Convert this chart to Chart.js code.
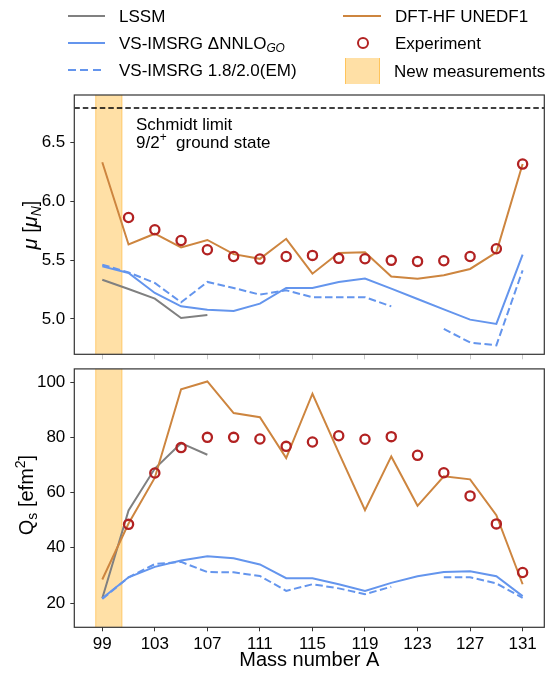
<!DOCTYPE html>
<html>
<head>
<meta charset="utf-8">
<script src="https://cdn.jsdelivr.net/npm/chart.js@4/dist/chart.umd.min.js"></script>
<style>
  body { margin: 0; background: #fff; font-family: 'Liberation Sans', Arial, sans-serif; }
  #page { position: relative; width: 555px; height: 673px; overflow: hidden; }
  .box { position: absolute; left: 0; width: 555px; }
  #topBox { top: 0; height: 362px; }
  #botBox { top: 362px; height: 311px; }
  .txt { position: absolute; font-size: 17px; color: #000; white-space: nowrap; line-height: 1; transform: translateY(-50%); z-index: 2; }
  .hline { position: absolute; height: 2px; margin-top: -1px; z-index: 2; }
  .ytitle { position: absolute; font-size: 20px; white-space: nowrap; line-height: 1; transform: translate(-50%, -50%) rotate(-90deg); z-index: 2; }
  sub, sup { font-size: 70%; line-height: 0; }
  sub { vertical-align: -0.3em; }
  sup { vertical-align: 0.55em; }
</style>
</head>
<body>
<div id="page">
  <div class="box" id="topBox"><canvas id="muChart"></canvas></div>
  <div class="box" id="botBox"><canvas id="qChart"></canvas></div>

  <!-- legend -->
  <div class="hline" style="left:68px; width:37px; top:16px; background:#808080"></div>
  <div class="txt" style="left:119px; top:16px">LSSM</div>
  <div class="hline" style="left:68px; width:37px; top:43px; background:#6495ed"></div>
  <div class="txt" style="left:119px; top:43px">VS-IMSRG ΔNNLO<sub><i>GO</i></sub></div>
  <div class="hline" style="left:68px; width:37px; top:70px; background:repeating-linear-gradient(90deg, #6495ed 0 8px, transparent 8px 12.5px)"></div>
  <div class="txt" style="left:119px; top:70px">VS-IMSRG 1.8/2.0(EM)</div>
  <div class="hline" style="left:343px; width:38px; top:16px; background:#cd853f"></div>
  <div class="txt" style="left:395px; top:16px">DFT-HF UNEDF1</div>
  <div style="position:absolute; left:357px; top:37px; width:8px; height:8px; border:2.3px solid #b22222; border-radius:50%; z-index:2"></div>
  <div class="txt" style="left:395px; top:43px">Experiment</div>
  <div style="position:absolute; left:345px; top:58px; width:33px; height:26px; background:rgba(255,165,0,0.35); border-left:1px solid rgba(255,165,0,0.45); border-right:1px solid rgba(255,165,0,0.45); z-index:2"></div>
  <div class="txt" style="left:394px; top:71px">New measurements</div>

  <!-- annotation and axis titles -->
  <div class="txt" style="left:136px; top:124px">Schmidt limit</div>
  <div class="txt" style="left:136px; top:142px">9/2<sup>+</sup>&nbsp; ground state</div>
  <div class="ytitle" style="left:30px; top:225px"><i>μ</i> [<i>μ</i><sub><i>N</i></sub>]</div>
  <div class="ytitle" style="left:26px; top:495px">Q<sub>s</sub> [efm<sup>2</sup>]</div>
</div>

<script>
// mass numbers (odd A)
const masses = [99, 101, 103, 105, 107, 109, 111, 113, 115, 117, 119, 121, 123, 125, 127, 129, 131];
const massTicks = [99, 103, 107, 111, 115, 119, 123, 127, 131];
const massRange = [96.87, 132.65];
const newBand = [98.5, 100.5];

// magnetic moments mu [mu_N]
const muTicks = [5.0, 5.5, 6.0, 6.5];
const muRange = [4.70, 6.90];
const schmidtLimit = 6.79;
const muLSSM = [5.333, 5.254, 5.172, 5.008, 5.034, null, null, null, null, null, null, null, null, null, null, null, null];
const muGO = [5.446, 5.39, 5.22, 5.107, 5.079, 5.068, 5.13, 5.263, 5.263, 5.314, 5.342, 5.257, 5.169, 5.081, 4.994, 4.958, 5.545];
const muEM = [5.46, 5.395, 5.305, 5.141, 5.314, 5.263, 5.206, 5.243, 5.184, 5.184, 5.184, 5.107, null, 4.915, 4.80, 4.776, 5.412];
const muDFT = [6.33, 5.632, 5.723, 5.607, 5.67, 5.55, 5.51, 5.68, 5.384, 5.56, 5.565, 5.36, 5.342, 5.37, 5.424, 5.565, 6.314];
const muExp = [null, 5.861, 5.757, 5.666, 5.587, 5.53, 5.508, 5.53, 5.539, 5.514, 5.511, 5.497, 5.488, 5.494, 5.53, 5.596, 6.314];

// quadrupole moments Qs [efm^2]
const qTicks = [20, 40, 60, 80, 100];
const qRange = [11.2, 104.8];
const qLSSM = [21.7, 53.5, 68.7, 77.9, 73.7, null, null, null, null, null, null, null, null, null, null, null, null];
const qGO = [21.7, 29.3, 33.1, 35.4, 36.96, 36.2, 33.96, 29.0, 29.0, 26.8, 24.4, 27.3, 29.7, 31.2, 31.5, 29.7, 22.5];
const qEM = [21.5, 29.3, 34.1, 34.9, 31.2, 31.1, 29.8, 24.4, 26.8, 25.3, 23.2, 25.9, null, 29.3, 29.3, 27.1, 21.9];
const qDFT = [28.5, 48.8, 65.4, 97.4, 100.25, 88.8, 87.3, 72.5, 95.8, 74.5, 53.6, 73.1, 55.2, 65.9, 64.8, 51.8, 26.8];
const qExp = [null, 48.5, 67.1, 76.3, 80.0, 80.0, 79.4, 76.75, 78.3, 80.6, 79.3, 80.25, 73.5, 67.2, 58.8, 48.65, 31.05];

document.addEventListener("DOMContentLoaded", () => {

    const FONT = "'Liberation Sans', Arial, sans-serif";
    const pts = vals => masses.map((a, i) => ({ x: a, y: vals[i] }));

    const lineSet = (label, vals, color, dashed) => ({
        label: label,
        data: pts(vals),
        borderColor: color,
        borderWidth: 2,
        borderDash: dashed ? [7.5, 3.5] : [],
        pointRadius: 0,
        fill: false,
        tension: 0,
        spanGaps: false
    });

    const expSet = vals => ({
        label: 'Experiment',
        data: pts(vals),
        showLine: false,
        pointRadius: 4.6,
        pointBorderWidth: 2.3,
        pointBorderColor: '#b22222',
        pointBackgroundColor: 'rgba(0,0,0,0)'
    });

    // orange band for new measurements + axes frame
    const panelDecor = {
        id: 'panelDecor',
        beforeDatasetsDraw(chart) {
            const { ctx, chartArea, scales } = chart;
            const x1 = scales.x.getPixelForValue(newBand[0]);
            const x2 = scales.x.getPixelForValue(newBand[1]);
            ctx.save();
            ctx.fillStyle = 'rgba(255,165,0,0.35)';
            ctx.fillRect(x1, chartArea.top, x2 - x1, chartArea.bottom - chartArea.top);
            ctx.strokeStyle = 'rgba(255,165,0,0.45)';
            ctx.lineWidth = 1;
            ctx.beginPath();
            ctx.moveTo(x1, chartArea.top); ctx.lineTo(x1, chartArea.bottom);
            ctx.moveTo(x2, chartArea.top); ctx.lineTo(x2, chartArea.bottom);
            ctx.stroke();
            ctx.restore();
        },
        afterDraw(chart) {
            const { ctx, chartArea } = chart;
            ctx.save();
            ctx.strokeStyle = '#333';
            ctx.lineWidth = 1.2;
            ctx.strokeRect(chartArea.left, chartArea.top, chartArea.right - chartArea.left, chartArea.bottom - chartArea.top);
            ctx.restore();
        }
    };

    const makeOptions = (yRange, yTicks, yFmt, padTop, xHeight, showX) => ({
        responsive: true,
        maintainAspectRatio: false,
        animation: false,
        layout: { padding: { left: 0, right: 10.7, top: padTop, bottom: 0 } },
        plugins: { legend: { display: false }, tooltip: { enabled: false } },
        scales: {
            x: {
                type: 'linear',
                min: massRange[0],
                max: massRange[1],
                afterBuildTicks: s => { s.ticks = massTicks.map(v => ({ value: v })); },
                afterFit: s => { s.height = xHeight; s.paddingLeft = 0; s.paddingRight = 0; },
                ticks: {
                    display: showX,
                    autoSkip: false,
                    maxRotation: 0,
                    padding: 3,
                    color: '#000',
                    font: { family: FONT, size: 17 },
                    callback: v => String(v)
                },
                grid: { drawOnChartArea: false, tickLength: showX ? 4 : 5, color: showX ? '#333' : '#c8c8c8' },
                border: { display: false },
                title: {
                    display: showX,
                    text: 'Mass number A',
                    color: '#000',
                    font: { family: FONT, size: 20 },
                    padding: { top: 0, bottom: 1 }
                }
            },
            y: {
                min: yRange[0],
                max: yRange[1],
                afterBuildTicks: s => { s.ticks = yTicks.map(v => ({ value: v })); },
                afterFit: s => { s.width = 74.3; s.paddingTop = 0; s.paddingBottom = 0; },
                ticks: {
                    padding: 5,
                    color: '#000',
                    font: { family: FONT, size: 17 },
                    callback: yFmt
                },
                grid: { drawOnChartArea: false, tickLength: 4, color: '#333' },
                border: { display: false }
            }
        }
    });

    // top panel: magnetic moments
    new Chart(document.getElementById("muChart").getContext("2d"), {
        type: 'line',
        data: {
            datasets: [
                expSet(muExp),
                lineSet('DFT-HF UNEDF1', muDFT, '#cd853f', false),
                lineSet('VS-IMSRG 1.8/2.0(EM)', muEM, '#6495ed', true),
                lineSet('VS-IMSRG GO', muGO, '#6495ed', false),
                lineSet('LSSM', muLSSM, '#808080', false),
                {
                    label: 'Schmidt limit',
                    data: [{ x: massRange[0], y: schmidtLimit }, { x: massRange[1], y: schmidtLimit }],
                    borderColor: '#000',
                    borderWidth: 1.5,
                    borderDash: [5.5, 3],
                    pointRadius: 0,
                    tension: 0
                }
            ]
        },
        options: makeOptions(muRange, muTicks, v => Number(v).toFixed(1), 95, 7.7, false),
        plugins: [panelDecor]
    });

    // bottom panel: quadrupole moments
    new Chart(document.getElementById("qChart").getContext("2d"), {
        type: 'line',
        data: {
            datasets: [
                expSet(qExp),
                lineSet('DFT-HF UNEDF1', qDFT, '#cd853f', false),
                lineSet('VS-IMSRG 1.8/2.0(EM)', qEM, '#6495ed', true),
                lineSet('VS-IMSRG GO', qGO, '#6495ed', false),
                lineSet('LSSM', qLSSM, '#808080', false)
            ]
        },
        options: makeOptions(qRange, qTicks, v => String(v), 6.3, 45.7, true),
        plugins: [panelDecor]
    });

});
</script>
</body>
</html>
